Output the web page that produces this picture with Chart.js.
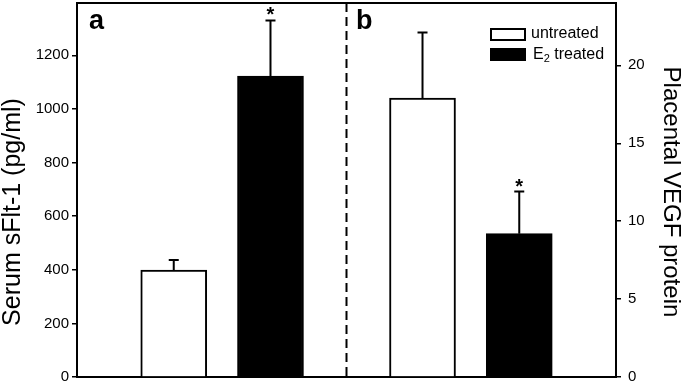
<!DOCTYPE html>
<html>
<head>
<meta charset="utf-8">
<script src="https://cdn.jsdelivr.net/npm/chart.js@4/dist/chart.umd.min.js"></script>
<style>
  html, body { margin: 0; padding: 0; background: #fff; }
  #caixa { width: 685px; height: 385px; }
</style>
</head>
<body>
<div id="caixa"><canvas id="grafico"></canvas></div>
<script>
// dados
const paineis = ['a', 'b'];
const grupos = ['untreated', 'E2 treated'];
const sflt1 = [399, 1122];          // painel a - Serum sFlt-1 (pg/ml)
const sflt1Erro = [37, 208];
const vegf = [17.9, 9.2];           // painel b - Placental VEGF protein
const vegfErro = [4.2, 2.7];
const asterisco = [false, true];    // * sobre o grupo tratado
const ticksSflt1 = [0, 200, 400, 600, 800, 1000, 1200];
const ticksVegf = [0, 5, 10, 15, 20];

// layout do eixo x (unidades do eixo linear)
const posicoes = [[7, 14], [25, 32]];
const divisoria = 19.5;
const xMax = 39;

const FONTE = "'Liberation Sans', Arial, sans-serif";
Chart.defaults.font.family = FONTE;
Chart.defaults.color = '#000';

const cores = ['#ffffff', '#000000'];

// monta um dataset por barra (cada painel tem o seu eixo y)
let datasets = [];
for (let p = 0; p < paineis.length; p++) {
    let valores = p == 0 ? sflt1 : vegf;
    for (let g = 0; g < grupos.length; g++) {
        datasets.push({
            label: grupos[g],
            data: [{ x: posicoes[p][g], y: valores[g] }],
            yAxisID: p == 0 ? 'ya' : 'yb',
            backgroundColor: cores[g],
            borderColor: '#000',
            borderWidth: 2,
            grouped: false,
            categoryPercentage: 1,
            barPercentage: 1,
            maxBarThickness: 66,
            painel: p,
            grupo: g
        });
    }
}

// desenha divisoria, barras de erro, asteriscos, letras, legenda e titulos
const extras = {
    id: 'extras',
    afterDatasetsDraw(chart) {
        const ctx = chart.ctx;
        const area = chart.chartArea;
        const x = chart.scales.x;

        ctx.save();
        ctx.strokeStyle = '#000';
        ctx.fillStyle = '#000';

        // linha tracejada entre os paineis
        ctx.lineWidth = 2;
        ctx.setLineDash([9, 5]);
        ctx.beginPath();
        ctx.moveTo(x.getPixelForValue(divisoria), area.top);
        ctx.lineTo(x.getPixelForValue(divisoria), area.bottom);
        ctx.stroke();
        ctx.setLineDash([]);

        // barras de erro (so a parte de cima)
        chart.data.datasets.forEach(function (ds) {
            const y = chart.scales[ds.yAxisID];
            const valor = ds.data[0].y;
            const erro = ds.painel == 0 ? sflt1Erro[ds.grupo] : vegfErro[ds.grupo];
            const px = x.getPixelForValue(ds.data[0].x);
            const topo = y.getPixelForValue(valor + erro);
            ctx.lineWidth = 2;
            ctx.beginPath();
            ctx.moveTo(px, y.getPixelForValue(valor));
            ctx.lineTo(px, topo);
            ctx.moveTo(px - 5, topo);
            ctx.lineTo(px + 5, topo);
            ctx.stroke();

            if (asterisco[ds.grupo]) {
                ctx.font = 'bold 20px ' + FONTE;
                ctx.textAlign = 'center';
                ctx.textBaseline = 'alphabetic';
                ctx.fillText('*', px, topo + 1);
            }
        });

        // letras dos paineis
        ctx.font = 'bold 27px ' + FONTE;
        ctx.textAlign = 'left';
        ctx.textBaseline = 'alphabetic';
        ctx.fillText(paineis[0], 89, 29);
        ctx.fillText(paineis[1], 356, 29);

        // legenda
        ctx.lineWidth = 2;
        ctx.fillStyle = '#fff';
        ctx.fillRect(491, 29, 34, 11);
        ctx.strokeRect(491, 29, 34, 11);
        ctx.fillStyle = '#000';
        ctx.fillRect(490, 48, 36, 13);
        ctx.font = '16px ' + FONTE;
        ctx.textBaseline = 'middle';
        ctx.fillText(grupos[0], 531, 34);
        ctx.fillText('E', 533, 55);
        let w = ctx.measureText('E').width;
        ctx.font = '11px ' + FONTE;
        ctx.fillText('2', 533 + w, 59);
        let w2 = ctx.measureText('2').width;
        ctx.font = '16px ' + FONTE;
        ctx.fillText(grupos[1].slice(2), 533 + w + w2, 55);

        // titulos dos eixos
        ctx.textAlign = 'center';
        ctx.save();
        ctx.font = '25px ' + FONTE;
        ctx.translate(13, 212);
        ctx.rotate(-Math.PI / 2);
        ctx.fillText('Serum sFlt-1 (pg/ml)', 0, 0);
        ctx.restore();
        ctx.save();
        ctx.font = '24px ' + FONTE;
        ctx.translate(671, 192);
        ctx.rotate(Math.PI / 2);
        ctx.fillText('Placental VEGF protein', 0, 0);
        ctx.restore();

        ctx.restore();
    }
};

const eixoY = function (lado, max, lista, largura, pad) {
    return {
        type: 'linear',
        position: lado,
        min: 0,
        max: max,
        ticks: {
            font: { size: 15 }, padding: pad, color: '#000', includeBounds: false,
            callback: function (v) { return String(v); }
        },
        grid: { drawOnChartArea: false, drawTicks: true, tickLength: 5, color: '#000', lineWidth: 1.5 },
        border: { display: true, color: '#000', width: 2 },
        afterBuildTicks: function (s) { s.ticks = lista.map(v => ({ value: v })); },
        afterFit: function (s) { s.width = largura; s.paddingTop = 0; s.paddingBottom = 0; }
    };
};

const config = {
    type: 'bar',
    data: { datasets: datasets },
    options: {
        responsive: true,
        maintainAspectRatio: false,
        animation: false,
        layout: { padding: 0 },
        plugins: { legend: { display: false }, tooltip: { enabled: false } },
        scales: {
            x: {
                type: 'linear',
                position: 'bottom',
                min: 0,
                max: xMax,
                offset: false,
                ticks: { display: false },
                grid: { display: false },
                border: { display: true, color: '#000', width: 2 },
                afterBuildTicks: function (s) { s.ticks = [{ value: 0 }]; },
                afterFit: function (s) { s.height = 8; s.paddingLeft = 0; s.paddingRight = 0; }
            },
            xTopo: {
                type: 'linear',
                position: 'top',
                min: 0,
                max: 1,
                ticks: { display: false },
                grid: { display: false },
                border: { display: true, color: '#000', width: 2 },
                afterFit: function (s) { s.height = 3; s.paddingLeft = 0; s.paddingRight = 0; }
            },
            ya: eixoY('left', 1395, ticksSflt1, 77, 3),
            yb: eixoY('right', 24, ticksVegf, 69, 7)
        }
    },
    plugins: [extras]
};

let grafico = new Chart(document.getElementById('grafico').getContext('2d'), config);
</script>
</body>
</html>
